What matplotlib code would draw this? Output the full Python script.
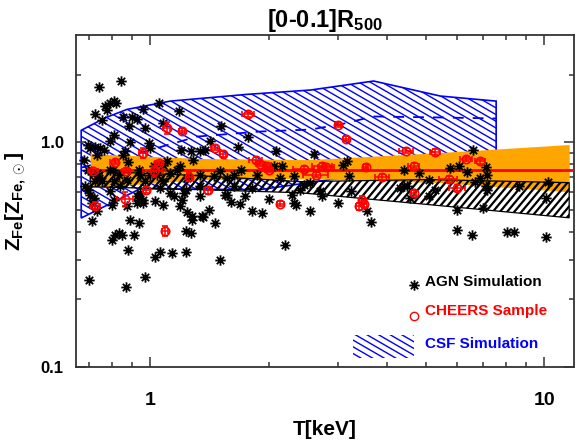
import numpy as np
import matplotlib
matplotlib.use('Agg')
import matplotlib.pyplot as plt
from matplotlib.patches import Polygon, Rectangle
from matplotlib.collections import LineCollection
from matplotlib.path import Path
from matplotlib.ticker import FixedLocator, FixedFormatter, NullFormatter

plt.rcParams['font.family'] = 'Liberation Sans'
plt.rcParams['font.weight'] = 'bold'
plt.rcParams['mathtext.fontset'] = 'custom'
plt.rcParams['mathtext.rm'] = 'Liberation Sans:bold'
plt.rcParams['mathtext.it'] = 'Liberation Sans:bold'
plt.rcParams['mathtext.bf'] = 'Liberation Sans:bold'

# AGN simulation clusters (T [keV], Z_Fe)
agn_T = [0.743, 0.844, 0.769, 0.789, 0.807, 0.820, 0.777, 0.725, 0.754, 0.855,
         0.881, 0.899, 0.925, 0.961, 0.971, 1.054, 1.18, 1.08, 1.51, 1.77,
         1.67, 2.08, 1.20, 1.27, 0.807, 0.792, 0.890, 0.99, 1.0, 0.704,
         0.725, 0.747, 0.761, 0.697, 0.864, 0.855, 0.732, 1.42, 1.38, 2.60,
         3.09, 3.16, 3.19, 4.40, 4.80, 5.09, 5.78, 6.07, 6.37, 6.61,
         7.10, 7.14, 6.89, 6.69, 7.10, 7.17, 8.62, 10.24, 10.1, 2.45,
         2.55, 2.73, 2.70, 3.23, 3.00, 2.55, 3.63, 4.31, 4.40, 4.48,
         5.09, 5.29, 6.01, 6.01, 6.56, 7.01, 8.05, 8.37, 10.12, 3.55,
         4.57, 2.16, 1.545, 1.34, 1.74, 2.00, 1.406, 1.60, 1.69, 1.81,
         1.92, 2.29, 2.31, 2.35, 1.273, 1.353, 0.711, 0.800, 0.815, 0.831,
         0.847, 0.911, 0.878, 0.890, 0.937, 0.700, 0.867, 0.971, 1.03, 1.056,
         1.133, 1.232, 1.242, 1.273, 1.23, 1.27, 1.361, 1.463, 1.50, 1.569,
         2.20, 0.943, 1.03, 1.079, 1.202, 1.218, 1.12, 1.149, 0.800, 0.732,
         0.740, 0.725, 0.754, 0.697, 0.704, 0.718, 0.732, 0.934, 1.02, 1.101,
         1.12, 1.19, 1.287, 1.34, 1.63, 1.70, 1.863, 2.06, 2.31, 2.40,
         1.63, 1.81, 0.961, 0.925, 1.06, 1.23, 1.34, 0.807, 0.839, 0.792,
         0.711, 0.807, 0.873, 0.925, 0.961, 0.934, 1.19, 2.14, 0.806, 1.0,
         1.08, 0.879, 0.696, 0.792, 0.831, 0.873, 0.943, 0.971, 1.04, 1.08,
         1.17, 1.24, 1.34, 1.45, 1.50, 1.57, 0.684, 0.680]
agn_Z = [1.76, 1.87, 1.45, 1.50, 1.52, 1.50, 1.39, 1.34, 1.25, 1.29,
         1.18, 1.30, 1.27, 1.40, 1.16, 1.50, 1.375, 1.22, 1.18, 1.05,
         0.954, 0.912, 0.928, 0.912, 1.08, 1.01, 1.00, 0.994, 0.944, 0.944,
         0.954, 0.944, 0.928, 0.977, 0.912, 0.881, 0.881, 1.01, 0.928, 0.887,
         0.795, 0.823, 0.706, 0.755, 0.730, 0.682, 0.768, 0.781, 0.740, 0.921,
         0.775, 0.718, 0.694, 0.664, 0.636, 0.615, 0.636, 0.668, 0.565, 0.647,
         0.658, 0.578, 0.604, 0.604, 0.536, 0.492, 0.443, 0.626, 0.636, 0.640,
         0.574, 0.615, 0.498, 0.406, 0.387, 0.510, 0.398, 0.398, 0.379, 0.492,
         0.565, 0.781, 0.584, 0.575, 0.574, 0.561, 0.498, 0.541, 0.530, 0.496,
         0.483, 0.584, 0.535, 0.524, 0.468, 0.468, 0.444, 0.366, 0.386, 0.395,
         0.386, 0.388, 0.333, 0.450, 0.437, 0.244, 0.228, 0.251, 0.309, 0.326,
         0.323, 0.324, 0.488, 0.450, 0.401, 0.395, 0.465, 0.439, 0.298, 0.584,
         0.350, 0.596, 0.546, 0.527, 0.555, 0.594, 0.594, 0.574, 0.527, 0.730,
         0.694, 0.670, 0.670, 0.615, 0.584, 0.565, 0.492, 0.755, 0.781, 0.823,
         0.730, 0.781, 0.837, 0.912, 0.718, 0.755, 0.718, 0.781, 0.706, 0.615,
         0.636, 0.626, 0.555, 0.574, 0.626, 0.615, 0.636, 0.670, 0.636, 0.604,
         0.536, 0.555, 0.518, 0.536, 0.536, 0.555, 0.518, 0.694, 0.755, 0.718,
         0.795, 0.820, 0.755, 0.755, 0.718, 0.682, 0.718, 0.670, 0.718, 0.670,
         0.755, 0.694, 0.718, 0.706, 0.742, 0.694, 0.640, 0.837]

# CHEERS sample
cheers_T = [0.715, 0.725, 0.812, 0.864, 0.869, 0.958, 0.977, 1.02, 1.05, 1.09,
            1.10, 1.206, 1.253, 1.40, 1.456, 1.53, 1.77, 1.85, 1.90, 1.98,
            2.00, 2.14, 2.45, 2.63, 2.73, 2.80, 3.00, 3.14, 3.44, 3.48,
            3.38, 3.52, 3.87, 4.47, 4.66, 4.66, 5.29, 5.72, 6.01, 6.34, 6.86]
cheers_Z = [0.747, 0.523, 0.817, 0.559, 0.747, 0.895, 0.615, 0.742, 0.809, 0.404,
            1.159, 1.127, 0.701, 0.611, 0.944, 0.887, 1.329, 0.837, 0.803, 0.781,
            0.755, 0.533, 0.760, 0.718, 0.787, 0.777, 1.196, 1.039, 0.555, 0.533,
            0.518, 0.779, 0.701, 0.918, 0.787, 0.594, 0.905, 0.687, 0.626, 0.843, 0.823]
cheers_Terr = [0.02, 0.02, 0.02, 0.04, 0.02, 0.02, 0.02, 0.06, 0.02, 0.02,
               0.02, 0.02, 0.02, 0.03, 0.03, 0.03, 0.06, 0.07, 0.05, 0.05,
               0.05, 0.04, 0.15, 0.19, 0.16, 0.13, 0.05, 0.05, 0.06, 0.06,
               0.06, 0.06, 0.16, 0.18, 0.16, 0.08, 0.16, 0.30, 0.29, 0.22, 0.20]
cheers_Zerr = [0.02, 0.02, 0.02, 0.04, 0.02, 0.045, 0.02, 0.04, 0.02, 0.022,
               0.07, 0.025, 0.03, 0.02, 0.025, 0.025, 0.03, 0.025, 0.02, 0.02,
               0.02, 0.015, 0.02, 0.02, 0.02, 0.02, 0.03, 0.03, 0.02, 0.02,
               0.02, 0.02, 0.02, 0.025, 0.02, 0.02, 0.025, 0.02, 0.02, 0.02, 0.02]

# CHEERS fit band and best fit
cheers_fit = 0.75
band_T = [0.704, 1.339, 2.548, 5.45, 11.57]
band_lo = [0.628, 0.682, 0.689, 0.661, 0.602]
band_hi = [0.890, 0.846, 0.837, 0.900, 0.977]

# AGN fit band
agnband_T = [0.704, 1.339, 2.403, 5.14, 11.57]
agnband_lo = [0.634, 0.615, 0.596, 0.527, 0.461]
agnband_hi = [0.745, 0.710, 0.668, 0.682, 0.661]

# CSF simulation envelope and median
csf_top_T = [0.668, 0.769, 0.873, 1.124, 1.76, 2.55, 3.69, 5.45, 7.55]
csf_top_Z = [1.13, 1.285, 1.40, 1.524, 1.633, 1.707, 1.872, 1.605, 1.524]
csf_bot_T = [0.668, 0.943, 1.90, 2.86, 4.85, 7.55]
csf_bot_Z = [0.46, 0.621, 0.615, 0.682, 0.755, 0.911]
csf_med_T = [0.668, 0.927, 1.316, 1.902, 2.548, 3.035, 3.68, 5.45, 7.55]
csf_med_Z = [0.771, 0.890, 1.06, 1.116, 1.139, 1.20, 1.302, 1.289, 1.276]

W, H = 581, 445
fig = plt.figure(figsize=(W / 100, H / 100), dpi=100)
ax = fig.add_axes([76 / W, 1 - 367 / H, 498 / W, 332 / H])
ax_w, ax_h = 498, 332

# 8-armed asterisk like IDL psym=2
verts, codes = [], []
for a in np.deg2rad([0, 45, 90, 135]):
    verts += [(-np.cos(a), -np.sin(a)), (np.cos(a), np.sin(a))]
    codes += [Path.MOVETO, Path.LINETO]
star = Path(verts, codes)


def hatch(ax, clip, angle, step, color, lw, z):
    a = np.deg2rad(angle)
    d = np.array([np.cos(a), np.sin(a)])
    n = np.array([-np.sin(a), np.cos(a)])
    L = ax_w + ax_h
    segs = []
    for c in np.arange(-L, L, step):
        p0 = c * n - L * d
        p1 = c * n + L * d
        segs.append([(p0[0] / ax_w, p0[1] / ax_h), (p1[0] / ax_w, p1[1] / ax_h)])
    lc = LineCollection(segs, colors=color, linewidths=lw,
                        transform=ax.transAxes, zorder=z)
    ax.add_collection(lc, autolim=False)
    lc.set_clip_path(clip)


blue = '#0000ff'

# CSF envelope
csf_xy = list(zip(csf_top_T, csf_top_Z)) + list(zip(csf_bot_T[::-1], csf_bot_Z[::-1]))
csf = Polygon(csf_xy, closed=True, facecolor='none', edgecolor=blue, lw=1.2, zorder=1)
ax.add_patch(csf)
hatch(ax, csf, -30, 5.8, blue, 1.0, 1)
ax.plot(csf_med_T, csf_med_Z, color=blue, lw=1.3, ls=(0, (6, 5)), zorder=1.5)

# CHEERS band
ax.fill_between(band_T, band_lo, band_hi, color='#ffa500', lw=0, zorder=2)

# AGN band
agn_xy = list(zip(agnband_T, agnband_hi)) + list(zip(agnband_T[::-1], agnband_lo[::-1]))
agnp = Polygon(agn_xy, closed=True, facecolor='none', edgecolor='black', lw=0.9, zorder=3)
ax.add_patch(agnp)
hatch(ax, agnp, 50, 5.5, 'black', 1.6, 3)

ax.plot([band_T[0], 12], [cheers_fit, cheers_fit], color='red', lw=2, zorder=4)

# data
ax.plot(agn_T, agn_Z, ls='none', marker=star, ms=7.5, mew=1.3, color='black', zorder=5)
ax.errorbar(cheers_T, cheers_Z, xerr=cheers_Terr, yerr=cheers_Zerr, fmt='o',
            mfc='none', mec='red', ecolor='red', ms=6, mew=1.2,
            elinewidth=1.1, capsize=2.5, capthick=1.1, zorder=6)

ax.set_xscale('log')
ax.set_yscale('log')
ax.set_xlim(0.648, 11.9)
ax.set_ylim(0.1, 3.0)

ax.xaxis.set_major_locator(FixedLocator([1, 10]))
ax.xaxis.set_major_formatter(FixedFormatter(['1', '10']))
ax.xaxis.set_minor_locator(FixedLocator([0.7, 0.8, 0.9, 2, 3, 4, 5, 6, 7, 8, 9]))
ax.xaxis.set_minor_formatter(NullFormatter())
ax.yaxis.set_major_locator(FixedLocator([0.1, 1.0]))
ax.yaxis.set_major_formatter(FixedFormatter(['0.1', '1.0']))
ax.yaxis.set_minor_locator(FixedLocator([0.2, 0.3, 0.4, 0.5, 0.6, 0.7, 0.8, 0.9, 2.0]))
ax.yaxis.set_minor_formatter(NullFormatter())

ax.tick_params(which='both', direction='in', top=True, right=True, color='#333333', width=1.1)
ax.tick_params(which='major', length=7)
ax.tick_params(which='minor', length=3.8)
ax.tick_params(axis='x', which='major', labelsize=14, pad=18)
ax.tick_params(axis='y', which='major', labelsize=12, pad=9)
for s in ax.spines.values():
    s.set_color('#333333')
    s.set_linewidth(1.3)

ax.set_title(r'[0-0.1]R$_{500}$', fontsize=17, fontweight='bold', pad=6)
ax.set_xlabel('T[keV]', fontsize=15, fontweight='bold')
ax.set_ylabel(r'Z$_{Fe}$[Z$_{Fe,\odot}$]', fontsize=15, fontweight='bold')
ax.xaxis.set_label_coords(0.5, -0.16)
ax.yaxis.set_label_coords(-0.095, 0.5)

# legend
ax.plot([0.679], [0.247], transform=ax.transAxes, ls='none', marker=star,
        ms=7.5, mew=1.3, color='black', clip_on=False)
ax.text(0.701, 0.256, 'AGN Simulation', transform=ax.transAxes, fontsize=11,
        fontweight='bold', color='black', va='center')
ax.plot([0.679], [0.154], transform=ax.transAxes, ls='none', marker='o', ms=6,
        mfc='none', mec='red', mew=1.0)
ax.text(0.701, 0.169, 'CHEERS Sample', transform=ax.transAxes, fontsize=11,
        fontweight='bold', color='red', va='center')
leg = Rectangle((0.556, 0.027), 0.123, 0.069, transform=ax.transAxes,
                facecolor='none', edgecolor='none')
ax.add_patch(leg)
hatch(ax, leg, -30, 5.8, blue, 1.0, 1)
ax.text(0.701, 0.069, 'CSF Simulation', transform=ax.transAxes, fontsize=11,
        fontweight='bold', color=blue, va='center')

fig.savefig('out.png', dpi=100, facecolor='white')
